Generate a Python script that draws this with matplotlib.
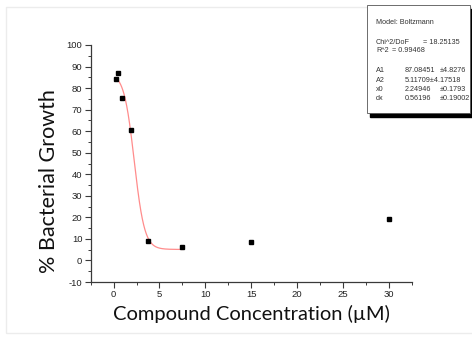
import numpy as np
import matplotlib
matplotlib.use("Agg")
import matplotlib.pyplot as plt
from matplotlib.patches import Rectangle
from matplotlib.ticker import MultipleLocator

plt.rcParams['axes.unicode_minus'] = False

# Measured growth at each compound concentration
concentration = [0.234, 0.469, 0.9375, 1.875, 3.75, 7.5, 15, 30]
growth = [84.3, 87.0, 75.3, 60.4, 9.2, 6.3, 8.7, 19.3]

# Boltzmann fit parameters
A1, A2, x0, dx = 87.08451, 5.11709, 2.24946, 0.56196
fit_labels = ["A1", "A2", "x0", "dx"]
fit_values = ["87.08451", "5.11709\u00b14.17518", "2.24946", "0.56196"]
fit_errors = ["\u00b14.8276", "", "\u00b10.1793", "\u00b10.19002"]
chi2_dof = "18.25135"
r2 = "0.99468"

W, H = 472, 338
fig = plt.figure(figsize=(W / 100, H / 100), dpi=100)
fig.patch.set_facecolor("white")

def fx(px):
    return px / W

def fy(py):
    return 1 - py / H

# faint page border
fig.patches.append(Rectangle((fx(6), fy(333)), fx(480) - fx(6), fy(7) - fy(333),
                             transform=fig.transFigure, fill=False,
                             edgecolor="#ececec", linewidth=1.0))

ax = fig.add_axes([fx(90.7), fy(282), fx(411.7) - fx(90.7), fy(45) - fy(282)])
ax.set_facecolor("none")

xs = np.linspace(min(concentration), 7.5, 300)
ys = A2 + (A1 - A2) / (1 + np.exp((xs - x0) / dx))
ax.plot(xs, ys, color="#ff8c8c", linewidth=0.9, zorder=2)
ax.plot(concentration, growth, linestyle="none", marker="s", markersize=3.3,
        color="black", zorder=3)

ax.set_xlim(-2.5, 32.5)
ax.set_ylim(-10, 100)
ax.xaxis.set_major_locator(MultipleLocator(5))
ax.xaxis.set_minor_locator(MultipleLocator(2.5))
ax.yaxis.set_major_locator(MultipleLocator(10))
ax.yaxis.set_minor_locator(MultipleLocator(5))

for side in ("top", "right"):
    ax.spines[side].set_visible(False)
for side in ("left", "bottom"):
    ax.spines[side].set_color("#3a3a3a")
    ax.spines[side].set_linewidth(0.9)

ax.tick_params(which="major", direction="out", length=4, width=0.8,
               color="#3a3a3a", labelsize=6.8, labelcolor="#222222", pad=2)
ax.tick_params(which="minor", direction="out", length=2.5, width=0.7,
               color="#3a3a3a")
for lbl in ax.get_xticklabels() + ax.get_yticklabels():
    lbl.set_family("Liberation Sans")

ax.set_xlabel("Compound Concentration (\u00b5M)", family="Lato", fontsize=14.5,
              color="#111111")
ax.set_ylabel("% Bacterial Growth", family="Lato", fontsize=15.5,
              color="#111111")
ax.xaxis.set_label_coords(0.5, -0.095)
ax.yaxis.set_label_coords(-0.10, 0.424)

# fit results box with drop shadow
bx0, by0, bx1, by1 = 367, 5, 470, 113
fig.patches.append(Rectangle((fx(bx0 + 3), fy(by1 + 4)), fx(bx1 + 3) - fx(bx0 + 3),
                             fy(by0 + 4) - fy(by1 + 4), transform=fig.transFigure,
                             facecolor="black", edgecolor="black", zorder=5))
fig.patches.append(Rectangle((fx(bx0), fy(by1)), fx(bx1) - fx(bx0), fy(by0) - fy(by1),
                             transform=fig.transFigure, facecolor="white",
                             edgecolor="#555555", linewidth=0.6, zorder=6))

tkw = dict(family="Liberation Sans", fontsize=5.2, color="#333333", va="center",
           zorder=7)
c1, c2, c3 = bx0 + 9, bx0 + 38, bx0 + 73
fig.text(fx(c1), fy(23), "Model: Boltzmann", **tkw)
fig.text(fx(c1), fy(42), "Chi^2/DoF", **tkw)
fig.text(fx(c1 + 47), fy(42), "= " + chi2_dof, **tkw)
fig.text(fx(c1), fy(51), "R^2", **tkw)
fig.text(fx(c1 + 16), fy(51), "= " + r2, **tkw)
for i, (lab, val, err) in enumerate(zip(fit_labels, fit_values, fit_errors)):
    yy = fy(71 + i * 9.3)
    fig.text(fx(c1), yy, lab, **tkw)
    fig.text(fx(c2), yy, val, **tkw)
    if err:
        fig.text(fx(c3), yy, err, **tkw)

fig.savefig("out.png", dpi=100)
